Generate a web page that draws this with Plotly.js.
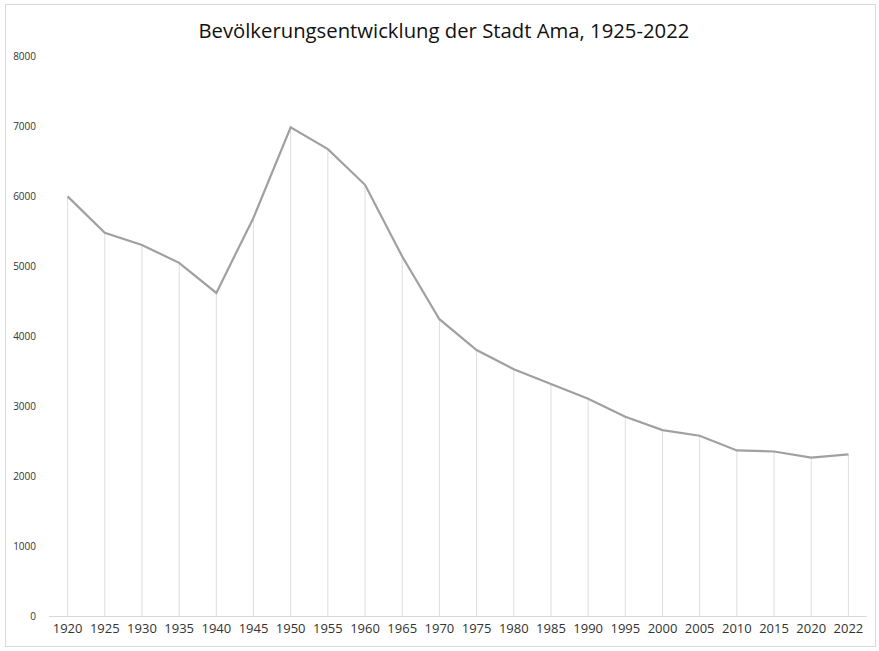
<!DOCTYPE html>
<html>
<head>
<meta charset="utf-8">
<script src="https://cdn.plot.ly/plotly-3.0.1.min.js"></script>
<style>
html,body{margin:0;padding:0;background:#fff;}
#wrap{position:relative;width:879px;height:651px;}
#chart{position:absolute;left:0;top:0;width:879px;height:651px;}
#frame{position:absolute;left:5px;top:4px;width:871px;height:643px;border:1px solid #d9d9d9;pointer-events:none;box-sizing:border-box;}
</style>
</head>
<body>
<div id="wrap"><div id="chart"></div><div id="frame"></div></div>
<script>
const years = ["1920","1925","1930","1935","1940","1945","1950","1955","1960","1965","1970","1975","1980","1985","1990","1995","2000","2005","2010","2015","2020","2022"];
const population = [5995,5475,5300,5045,4615,5690,6980,6670,6160,5135,4240,3800,3525,3320,3105,2845,2655,2575,2365,2350,2262,2310];
const yTicks = [0,1000,2000,3000,4000,5000,6000,7000,8000];
const titleText = "Bevölkerungsentwicklung der Stadt Ama, 1925-2022";

const zeros = population.map(() => 0);

const dropLines = {
  x: years, y: population, type: "scatter", mode: "markers",
  marker: {size: 0, opacity: 0},
  error_y: {type: "data", symmetric: false, array: zeros, arrayminus: population, width: 0, thickness: 1, color: "#dedede"},
  hoverinfo: "skip", showlegend: false
};
const line = {
  x: years, y: population, type: "scatter", mode: "lines",
  line: {color: "#a0a0a0", width: 2.2},
  showlegend: false
};

const layout = {
  width: 879, height: 651,
  margin: {l: 49, r: 12, t: 56, b: 35},
  paper_bgcolor: "#ffffff", plot_bgcolor: "#ffffff",
  font: {family: "Open Sans, Noto Sans, sans-serif", color: "#333333"},
  title: {text: titleText, x: 0.505, xanchor: "center", y: 0.953, yanchor: "middle",
          font: {size: 20.3, color: "#111111", family: "Open Sans, Noto Sans, sans-serif"}},
  xaxis: {type: "category", range: [-0.5, years.length - 0.5], showgrid: false, zeroline: false, showline: true, linecolor: "#d9d9d9", linewidth: 1,
          ticks: "", tickfont: {size: 13, color: "#333333"}, fixedrange: true},
  yaxis: {range: [0, 8000], tickvals: yTicks, ticktext: yTicks.map(String), showgrid: false, zeroline: false, showline: false,
          ticks: "", ticklabelstandoff: 12, tickfont: {size: 10, color: "#333333"}, fixedrange: true}
};

Plotly.newPlot("chart", [dropLines, line], layout, {displayModeBar: false, staticPlot: true});
</script>
</body>
</html>
